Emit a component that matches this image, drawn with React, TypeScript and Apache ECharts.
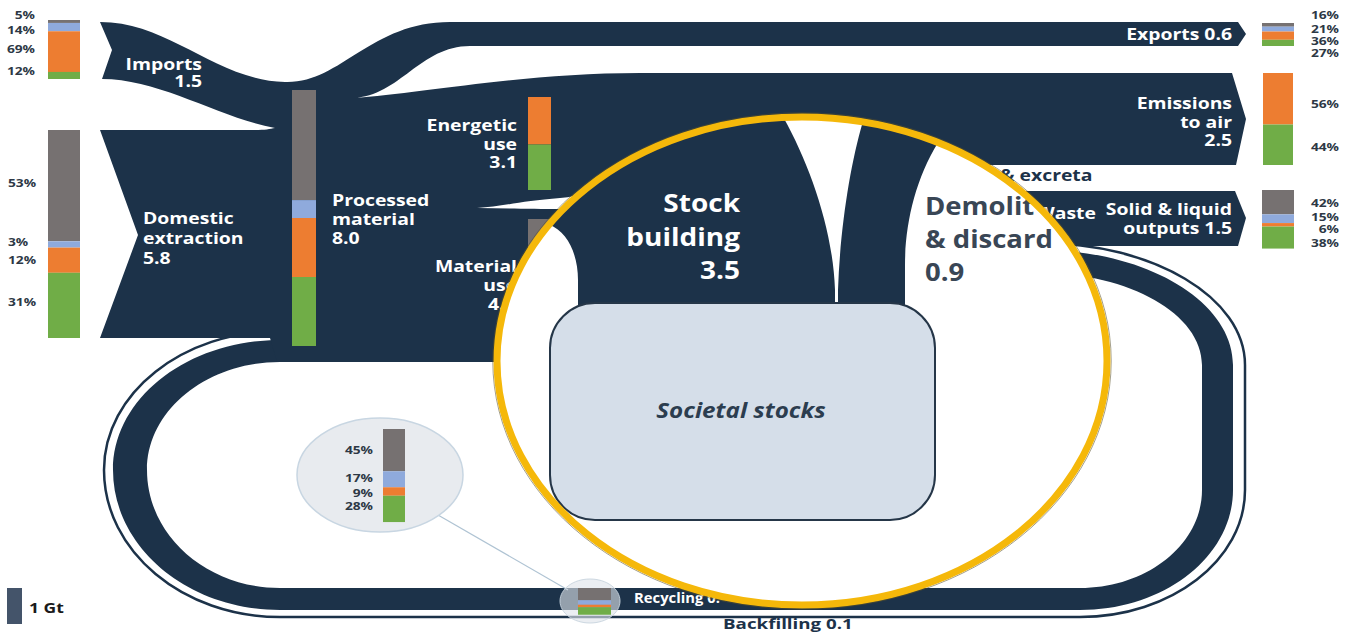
import React, { useEffect, useRef } from 'react';
import * as echarts from 'echarts';

const W = 1365;
const H = 635;

// colours of material groups: [non-metallic minerals, metal ores, fossil energy carriers, biomass]
const CAT_COLORS = ['#767171', '#8FAADC', '#ED7D31', '#70AD47'];
const NAVY = '#1c3249';
const PCT_TEXT = '#2d3845';

// composition shares (%) per flow, in category order above
const importsShare = [5, 14, 69, 12];
const domesticShare = [53, 3, 12, 31];
const processedShare = [43, 7, 23, 27];
const energeticShare = [0, 0, 51, 49];
const materialUseShare = [100, 0, 0, 0];
const exportsShare = [16, 21, 36, 27];
const emissionsShare = [0, 0, 56, 44];
const solidShare = [42, 15, 6, 38];
const recyclingShare = [45, 17, 9, 28];

// flow sizes (Gt)
const importsGt = 1.5;
const domesticGt = 5.8;
const processedGt = 8.0;
const energeticGt = 3.1;
const exportsGt = 0.6;
const emissionsGt = 2.5;
const solidGt = 1.5;
const stockBuildingGt = 3.5;
const demolitionGt = 0.9;
const backfillingGt = 0.1;

// layout of stacked bars (pixels)
const BARS = [
  { share: importsShare, x: 48, y: 20, w: 32, h: 59 },
  { share: domesticShare, x: 48, y: 130, w: 32, h: 210 },
  { share: processedShare, x: 292, y: 90, w: 24, h: 256 },
  { share: energeticShare, x: 528, y: 97, w: 23, h: 93 },
  { share: materialUseShare, x: 528, y: 219, w: 22, h: 126 },
  { share: exportsShare, x: 1262, y: 23, w: 32, h: 23 },
  { share: emissionsShare, x: 1263, y: 73, w: 30, h: 92 },
  { share: solidShare, x: 1262, y: 190, w: 32, h: 58 },
  { share: recyclingShare, x: 383, y: 429, w: 22, h: 94 },
  { share: recyclingShare, x: 578, y: 588, w: 33, h: 27 },
];

// percentage label placement
const PCT_LABELS = [
  { share: importsShare, x: 35, align: 'right', ys: [15, 30, 49, 71] },
  { share: domesticShare, x: 8, align: 'left', ys: [183, 242, 260, 302] },
  { share: exportsShare, x: 1339, align: 'right', ys: [15, 29, 41, 53] },
  { share: emissionsShare, x: 1339, align: 'right', ys: [0, 0, 104, 147] },
  { share: solidShare, x: 1339, align: 'right', ys: [203, 217, 229, 243] },
  { share: recyclingShare, x: 373, align: 'right', ys: [450, 478, 493, 506] },
];

const LENS = { cx: 802, cy: 361, rx: 305, ry: 244 };

const f = (n: number) => n.toFixed(1);
const ept = (deg: number) => {
  const t = (deg * Math.PI) / 180;
  return [LENS.cx + LENS.rx * Math.cos(t), LENS.cy + LENS.ry * Math.sin(t)];
};
const arcPts = (a: number, b: number, n = 30) => {
  let s = '';
  for (let i = 1; i <= n; i++) {
    const p = ept(a + ((b - a) * i) / n);
    s += ` L ${f(p[0])} ${f(p[1])}`;
  }
  return s;
};

function loopPath(p: any, close: boolean) {
  const k = 0.5523;
  const { xs, TR, R, yR1, yR2, xB1, B, xL1, yLc, L, TL, xe } = p;
  let d = `M ${xs} ${TR}`;
  const rx1 = R - xs, ry1 = yR1 - TR;
  d += ` C ${f(xs + k * rx1)} ${TR} ${R} ${f(yR1 - k * ry1)} ${R} ${yR1}`;
  d += ` L ${R} ${yR2}`;
  const rx2 = R - xB1, ry2 = B - yR2;
  d += ` C ${R} ${f(yR2 + k * ry2)} ${f(xB1 + k * rx2)} ${B} ${xB1} ${B}`;
  d += ` L ${xL1} ${B}`;
  const rx3 = xL1 - L, ry3b = B - yLc, ry3t = yLc - TL;
  d += ` C ${f(xL1 - k * rx3)} ${B} ${L} ${f(yLc + k * ry3b)} ${L} ${yLc}`;
  d += ` C ${L} ${f(yLc - k * ry3t)} ${f(xL1 - k * rx3)} ${TL} ${xL1} ${TL}`;
  d += ` L ${xe} ${TL}`;
  if (close) d += ' Z';
  return d;
}

const LOOP_BASE = { xs: 1040, yR1: 365, yR2: 490, xB1: 1080, xL1: 280, yLc: 470, xe: 330 };

const MAINLAND =
  'M 100 22 C 170 22 215 80 285 82 C 340 84 370 22 450 22 L 1238 22 L 1246 34 L 1238 46 L 470 46 ' +
  'C 420 46 400 96 353 98 C 420 94 520 73 640 73 L 1232 73 L 1246 119 L 1236 165 L 720 165 ' +
  'C 650 165 600 195 560 198 C 520 201 500 207 477 208 C 520 209 560 209 640 210 L 700 210 L 700 362 ' +
  'L 277 362 L 270 338 L 100 338 L 138 235 L 100 130 L 255 130 C 265 130 270 129 275 128 ' +
  'C 220 118 160 79 102 79 L 112 50 Z';

const SOLID_BAND = 'M 950 191 L 1235 191 L 1246 218 L 1238 246 L 950 246 Z';

let registered = false;
function registerShapes() {
  if (registered) return;
  registered = true;
  const reg = (name: string, d: string) =>
    echarts.graphic.registerShape(name, echarts.graphic.extendPath(d, {}) as any);
  reg('loopThin', loopPath({ ...LOOP_BASE, TR: 243, R: 1245, B: 617, L: 104, TL: 331 }, false));
  reg('loopOuter', loopPath({ ...LOOP_BASE, TR: 250, R: 1233, B: 610, L: 113, TL: 340 }, true));
  reg('loopInner', loopPath({ ...LOOP_BASE, TR: 273, R: 1202, B: 588, L: 147, TL: 362 }, true));
  reg('mainland', MAINLAND);
  reg('solidBand', SOLID_BAND);
  const s0 = ept(-146), s1 = ept(-93.5);
  const stockD =
    `M ${f(s0[0])} ${f(s0[1])} C 568 232 578 255 578 280 L 578 312 L 835 312 L 835 290 ` +
    `C 833 230 810 165 ${f(s1[0])} ${f(s1[1])}` + arcPts(-93.5, -146) + ' Z';
  reg('stockRegion', stockD);
  const d0 = ept(-78.5);
  const demoD =
    `M 838 312 L 838 290 C 840 230 850 165 ${f(d0[0])} ${f(d0[1])}` + arcPts(-78.5, -63.5) +
    ` C 915 180 905 225 905 265 L 905 312 Z`;
  reg('demoRegion', demoD);
}

const FONT = '"Open Sans", "DejaVu Sans", sans-serif';

function txt(text: string, x: number, y: number, o: any = {}) {
  const size = o.size ?? 15.5;
  return {
    type: 'text',
    x,
    y,
    z: o.z ?? 6,
    scaleX: o.sx ?? 1.25,
    silent: true,
    style: {
      text,
      fill: o.color ?? '#ffffff',
      font: `${o.italic ? 'italic ' : ''}bold ${size}px ${FONT}`,
      align: o.align ?? 'left',
      textAlign: o.align ?? 'left',
      verticalAlign: 'middle',
      textVerticalAlign: 'middle',
      lineHeight: o.lh ?? size * 1.2,
    },
  };
}

function buildOption() {
  const segs: number[][] = [];
  BARS.forEach((b) => {
    let cum = 0;
    b.share.forEach((s, i) => {
      if (s > 0) segs.push([b.x, b.y + (b.h * cum) / 100, b.w, (b.h * s) / 100, i]);
      cum += s;
    });
  });

  const pctTexts: any[] = [];
  PCT_LABELS.forEach((l) => {
    l.share.forEach((s, i) => {
      if (s > 0) pctTexts.push(txt(`${s}%`, l.x, l.ys[i], { size: 11, color: PCT_TEXT, align: l.align, z: 8 }));
    });
  });

  const graphic: any[] = [
    { type: 'loopThin', z: 1, silent: true, style: { fill: 'none', stroke: NAVY, lineWidth: 2.5 } },
    { type: 'loopOuter', z: 2, silent: true, style: { fill: NAVY } },
    { type: 'loopInner', z: 3, silent: true, style: { fill: '#ffffff' } },
    { type: 'mainland', z: 4, silent: true, style: { fill: NAVY } },
    { type: 'solidBand', z: 4, silent: true, style: { fill: NAVY } },

    // flow labels
    txt(`Imports\n${importsGt.toFixed(1)}`, 202, 72.5, { align: 'right', lh: 17 }),
    txt(`Domestic\nextraction\n${domesticGt.toFixed(1)}`, 143, 237.5, { lh: 20 }),
    txt(`Processed\nmaterial\n${processedGt.toFixed(1)}`, 332, 219, { lh: 19 }),
    txt(`Energetic\nuse\n${energeticGt.toFixed(1)}`, 517, 143.5, { align: 'right', lh: 18.5 }),
    txt('Material\nuse', 517, 275.5, { align: 'right', lh: 19 }),
    txt('4.', 488, 304),
    txt(`Exports ${exportsGt.toFixed(1)}`, 1232, 34, { align: 'right' }),
    txt(`Emissions\nto air\n${emissionsGt.toFixed(1)}`, 1232, 121.5, { align: 'right', lh: 18.5 }),
    txt(`Solid & liquid\noutputs ${solidGt.toFixed(1)}`, 1232, 218.5, { align: 'right', lh: 19 }),
    txt('Waste', 1036, 213),
    txt('& excreta', 1000, 175, { color: NAVY }),
    txt('Recycling 0.', 634, 598, { size: 14, sx: 1.06 }),
    txt(`Backfilling ${backfillingGt.toFixed(1)}`, 723, 623, { color: NAVY, size: 15 }),

    // scale legend
    { type: 'rect', z: 6, silent: true, shape: { x: 7, y: 588, width: 15, height: 36 }, style: { fill: '#44546A' } },
    txt('1 Gt', 29, 608, { color: '#1a1a1a', size: 14 }),

    // magnifier bubbles for recycling composition
    { type: 'line', z: 6, silent: true, shape: { x1: 438, y1: 515, x2: 568, y2: 590 }, style: { stroke: '#AFC3D3', lineWidth: 1.2 } },
    { type: 'ellipse', z: 6, silent: true, shape: { cx: 380, cy: 475, rx: 83, ry: 57 }, style: { fill: '#E8EBEF', stroke: '#C8D6E2', lineWidth: 1.5 } },
    { type: 'ellipse', z: 6, silent: true, shape: { cx: 590, cy: 601, rx: 30, ry: 22 }, style: { fill: 'rgba(222,228,234,0.62)', stroke: 'rgba(200,212,222,0.9)', lineWidth: 1 } },

    ...pctTexts,

    // lens
    { type: 'ellipse', z: 20, silent: true, shape: { ...LENS }, style: { fill: '#ffffff' } },
    { type: 'stockRegion', z: 21, silent: true, style: { fill: NAVY } },
    { type: 'demoRegion', z: 21, silent: true, style: { fill: NAVY } },
    { type: 'rect', z: 22, silent: true, shape: { x: 550, y: 303, width: 385, height: 217, r: 45 }, style: { fill: '#D5DEE9', stroke: '#253648', lineWidth: 2 } },
    txt(`Stock\nbuilding\n${stockBuildingGt.toFixed(1)}`, 740, 236.5, { align: 'right', size: 25, sx: 1.12, lh: 33.5, z: 23 }),
    txt(`Demolit\n& discard\n${demolitionGt.toFixed(1)}`, 925, 238, { size: 25, sx: 1.1, lh: 33, z: 23, color: '#394655' }),
    txt('Societal stocks', 741, 409, { align: 'center', size: 22, sx: 1.1, italic: true, z: 23, color: '#2c3d4f' }),
    { type: 'ellipse', z: 24, silent: true, shape: { cx: LENS.cx, cy: LENS.cy, rx: LENS.rx + 4.2, ry: LENS.ry + 4.2 }, style: { fill: 'none', stroke: 'rgba(90,80,40,0.55)', lineWidth: 1 } },
    { type: 'ellipse', z: 25, silent: true, shape: { ...LENS }, style: { fill: 'none', stroke: '#F5B80A', lineWidth: 7 } },
  ];

  return {
    animation: false,
    backgroundColor: '#ffffff',
    grid: { left: 0, right: 0, top: 0, bottom: 0, containLabel: false },
    xAxis: { type: 'value', min: 0, max: W, show: false },
    yAxis: { type: 'value', min: 0, max: H, inverse: true, show: false },
    series: [
      {
        type: 'custom',
        z: 7,
        silent: true,
        encode: { x: 0, y: 1 },
        data: segs,
        renderItem: (params: any, api: any) => {
          const x = api.value(0), y = api.value(1), w = api.value(2), h = api.value(3), c = api.value(4);
          const p0 = api.coord([x, y]);
          const p1 = api.coord([x + w, y + h]);
          return {
            type: 'rect',
            shape: { x: p0[0], y: p0[1], width: p1[0] - p0[0], height: p1[1] - p0[1] },
            style: { fill: CAT_COLORS[c] },
          };
        },
      },
    ],
    graphic,
  };
}

export default function App() {
  const ref = useRef<HTMLDivElement>(null);
  useEffect(() => {
    document.body.style.margin = '0';
    registerShapes();
    const chart = echarts.init(ref.current as HTMLDivElement, undefined, { renderer: 'svg' });
    chart.setOption(buildOption() as any);
    return () => chart.dispose();
  }, []);
  return <div ref={ref} style={{ width: W, height: H }} />;
}
